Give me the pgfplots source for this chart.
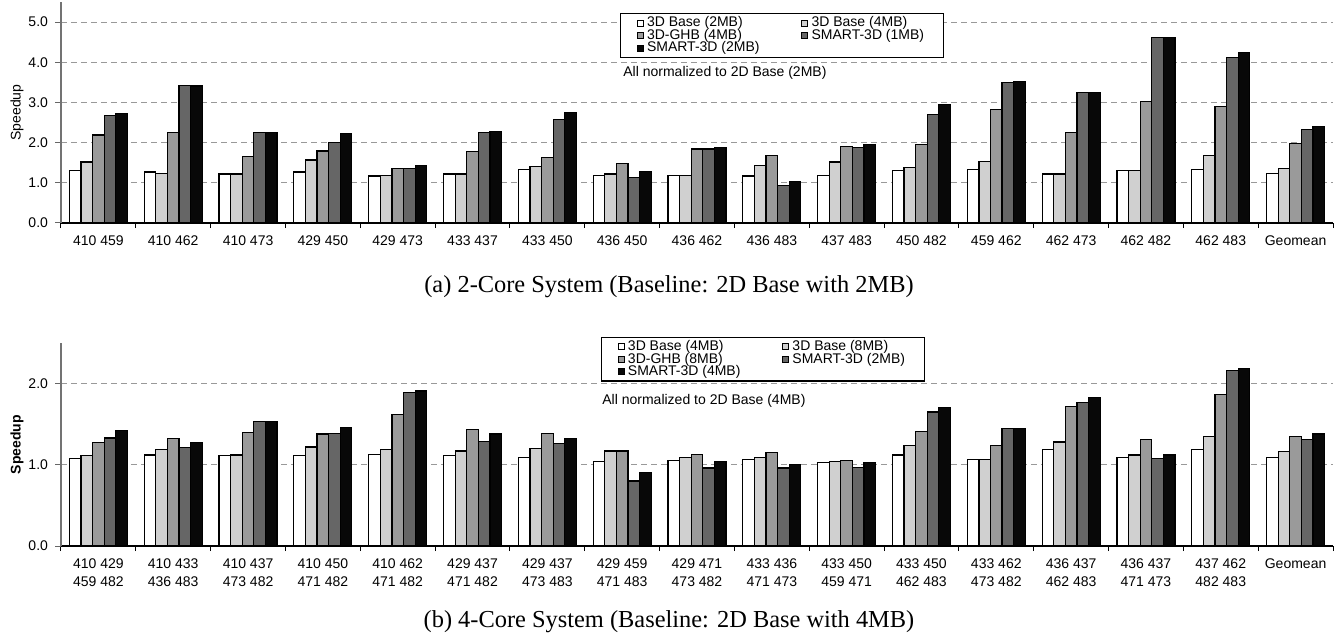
\documentclass[border=0pt]{standalone}
\usepackage{fontspec}
\setmainfont{Liberation Serif}
\setsansfont{Liberation Sans}
\usepackage{pgfplots}
\usepackage{pgfplotstable}
\pgfplotsset{compat=1.18}

\definecolor{cA}{HTML}{FFFFFF}
\definecolor{cB}{HTML}{D0D0D0}
\definecolor{cC}{HTML}{9A9A9A}
\definecolor{cD}{HTML}{666666}
\definecolor{cE}{HTML}{080808}

\pgfplotstableread{
x a b c d e
0 1.30 1.52 2.19 2.68 2.73
1 1.27 1.24 2.25 3.43 3.41
2 1.22 1.22 1.66 2.25 2.25
3 1.27 1.57 1.79 2.00 2.22
4 1.17 1.19 1.35 1.35 1.44
5 1.22 1.22 1.77 2.25 2.28
6 1.33 1.41 1.63 2.57 2.76
7 1.19 1.22 1.49 1.14 1.28
8 1.19 1.19 1.84 1.84 1.87
9 1.17 1.43 1.68 0.93 1.04
10 1.19 1.52 1.90 1.87 1.95
11 1.30 1.38 1.95 2.70 2.95
12 1.33 1.54 2.82 3.49 3.52
13 1.22 1.22 2.26 3.24 3.24
14 1.30 1.30 3.03 4.62 4.62
15 1.33 1.68 2.89 4.11 4.25
16 1.24 1.35 1.97 2.33 2.41
}\toptable

\pgfplotstableread{
x a b c d e
0 1.08 1.11 1.27 1.33 1.42
1 1.12 1.19 1.32 1.21 1.27
2 1.11 1.12 1.40 1.53 1.53
3 1.11 1.22 1.38 1.39 1.46
4 1.13 1.19 1.62 1.89 1.91
5 1.11 1.17 1.43 1.29 1.38
6 1.09 1.20 1.39 1.26 1.32
7 1.04 1.17 1.17 0.80 0.91
8 1.05 1.09 1.13 0.96 1.04
9 1.07 1.09 1.15 0.96 1.00
10 1.03 1.04 1.05 0.97 1.03
11 1.12 1.24 1.41 1.65 1.71
12 1.07 1.07 1.24 1.45 1.45
13 1.19 1.28 1.72 1.77 1.83
14 1.09 1.12 1.31 1.08 1.12
15 1.19 1.35 1.87 2.16 2.19
16 1.09 1.16 1.35 1.31 1.38
}\bottable

\newcommand{\sfs}{\sffamily\fontsize{7}{9}\selectfont}

\pgfplotsset{
  barstyle/.style={
    scale only axis, width=636pt,
    xmin=-0.5, xmax=16.5, ymin=0,
    axis lines=left, axis line style={-},
    x axis line style={black, line width=0.6pt},
    y axis line style={black!55, line width=0.6pt},
    tick align=outside,
    xtick={0,...,16},
    major x tick style={draw=none},
    minor xtick={-0.5,0.5,...,16.5},
    minor tick length=2.5pt,
    minor x tick style={black, line width=0.5pt},
    major tick length=3pt,
    y tick style={black!60, line width=0.5pt},
    ymajorgrids,
    grid style={dash pattern=on 3pt off 2pt, black!40, line width=0.5pt},
    ybar, bar width=0.155,
    ticklabel style={font=\sfs},
    /pgf/number format/assume math mode=true,
    yticklabel style={/pgf/number format/fixed, /pgf/number format/precision=1, /pgf/number format/fixed zerofill},
    legend columns=2,
    legend style={font=\sfs, draw=black, line width=0.6pt, inner xsep=8pt, inner ysep=1.5pt,
      anchor=north west, cells={anchor=west},
      nodes={inner xsep=1.8pt, inner ysep=0pt, text height=5pt, text depth=1.25pt},
      /tikz/every even column/.append style={column sep=19pt}},
    legend image code/.code={\draw[#1, draw=black, line width=0.4pt] (0pt,-1.5pt) rectangle (3pt,1.5pt);},
    every axis y label/.style={at={(axis description cs:-0.0346,0.5)}, rotate=90, anchor=center},
  },
  sA/.style={fill=cA, draw=black, line width=0.6pt, bar shift=-0.31},
  sB/.style={fill=cB, draw=black, line width=0.6pt, bar shift=-0.155},
  sC/.style={fill=cC, draw=black, line width=0.6pt, bar shift=0},
  sD/.style={fill=cD, draw=black, line width=0.6pt, bar shift=0.155},
  sE/.style={fill=cE, draw=black, line width=0.6pt, bar shift=0.31},
}

\begin{document}
\begin{tikzpicture}
\path[use as bounding box] (0,0) rectangle (667.5pt,-321pt);

\begin{axis}[barstyle,
  at={(30.5pt,-111.5pt)}, anchor=south west,
  height=110.5pt, ymax=5.5, ytick={0,1,2,3,4,5},
  xticklabels={410 459,410 462,410 473,429 450,429 473,433 437,433 450,436 450,436 462,436 483,437 483,450 482,459 462,462 473,462 482,462 483,Geomean},
  ylabel={\sfs Speedup},
  legend style={at={(0.4395,0.950)}},
]
\addplot[sA] table[x=x,y=a]{\toptable};
\addplot[sB] table[x=x,y=b]{\toptable};
\addplot[sC] table[x=x,y=c]{\toptable};
\addplot[sD] table[x=x,y=d]{\toptable};
\addplot[sE] table[x=x,y=e]{\toptable};
\legend{3D Base (2MB),3D Base (4MB),3D-GHB (4MB),SMART-3D (1MB),SMART-3D (2MB)}
\end{axis}
\node[anchor=west, font=\sfs, inner sep=0pt] at (311.5pt,-36.5pt) {All normalized to 2D Base (2MB)};
\node[font=\fontsize{12.2}{14}\selectfont, inner sep=0pt] at (334.5pt,-143.5pt) {(a) 2-Core System (Baseline: 2D Base with 2MB)};

\begin{axis}[barstyle,
  at={(30.5pt,-273pt)}, anchor=south west,
  height=101.5pt, ymax=2.5, ytick={0,1,2},
  xticklabel style={align=center},
  xticklabels={{410 429\\459 482},{410 433\\436 483},{410 437\\473 482},{410 450\\471 482},{410 462\\471 482},{429 437\\471 482},{429 437\\473 483},{429 459\\471 483},{429 471\\473 482},{433 436\\471 473},{433 450\\459 471},{433 450\\462 483},{433 462\\473 482},{436 437\\462 483},{436 437\\471 473},{437 462\\482 483},Geomean},
  ylabel={\sfs\bfseries Speedup},
  legend style={at={(0.4245,1.0296)}},
]
\addplot[sA] table[x=x,y=a]{\bottable};
\addplot[sB] table[x=x,y=b]{\bottable};
\addplot[sC] table[x=x,y=c]{\bottable};
\addplot[sD] table[x=x,y=d]{\bottable};
\addplot[sE] table[x=x,y=e]{\bottable};
\legend{3D Base (4MB),3D Base (8MB),3D-GHB (8MB),SMART-3D (2MB),SMART-3D (4MB)}
\end{axis}
\node[anchor=west, font=\sfs, inner sep=0pt] at (301pt,-200.3pt) {All normalized to 2D Base (4MB)};
\node[font=\fontsize{12.2}{14}\selectfont, inner sep=0pt] at (334.5pt,-311pt) {(b) 4-Core System (Baseline: 2D Base with 4MB)};
\end{tikzpicture}
\end{document}
